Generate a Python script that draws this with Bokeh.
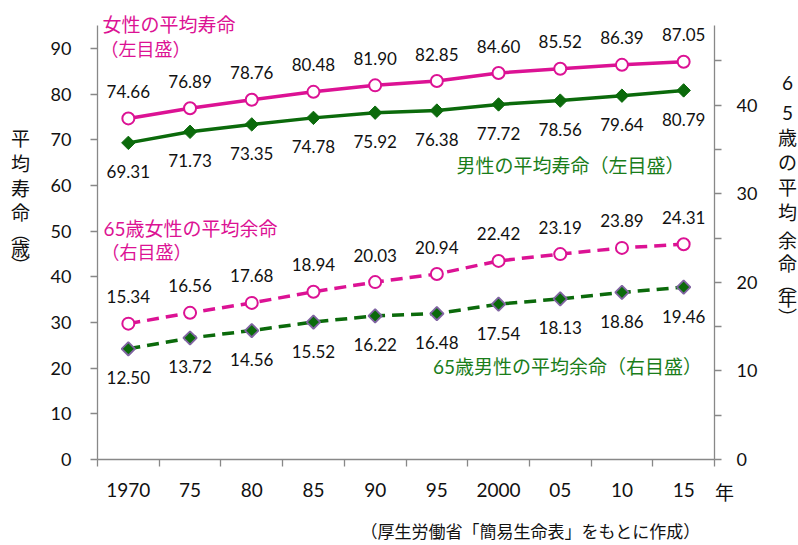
import numpy as np
from bokeh.plotting import figure
from bokeh.models import Range1d, LinearAxis, FixedTicker, ColumnDataSource, LabelSet, Label
from bokeh.core.properties import value
from bokeh.embed import file_html
from bokeh.resources import INLINE

# ---------------- data ----------------
years = ["1970", "75", "80", "85", "90", "95", "2000", "05", "10", "15"]
female = [74.66, 76.89, 78.76, 80.48, 81.90, 82.85, 84.60, 85.52, 86.39, 87.05]
male = [69.31, 71.73, 73.35, 74.78, 75.92, 76.38, 77.72, 78.56, 79.64, 80.79]
female65 = [15.34, 16.56, 17.68, 18.94, 20.03, 20.94, 22.42, 23.19, 23.89, 24.31]
male65 = [12.50, 13.72, 14.56, 15.52, 16.22, 16.48, 17.54, 18.13, 18.86, 19.46]

left_ticks = [0, 10, 20, 30, 40, 50, 60, 70, 80, 90]
right_ticks = [0, 10, 20, 30, 40]
right_minor = [5, 15, 25, 35, 45]

# ---------------- style / layout ----------------
PINK = "#DC1294"
GREEN = "#0B6A0B"
GREEN_TXT = "#1A7D1A"
PURPLE = "#8064A2"
AXIS = "#888888"
TXT = "#111111"
NUM_FONT = "Lato"
JP_FONT = "Lato, 'Noto Sans CJK JP'"
CJK = "Noto Sans CJK JP"

W, H = 798, 545
FL, FR, FT, FB = 97, 714, 25, 459      # plot-area edges in page pixels
LEFT_MAX, RIGHT_MAX = 95, 49
n = len(years)
sx = (FR - FL) / n
sy_l = (FB - FT) / LEFT_MAX
sy_r = (FB - FT) / RIGHT_MAX

def dx(px):
    return -0.5 + (px - FL) / sx

def dy(py):
    return (FB - py) / sy_l

def ry(py):
    return (FB - py) / sy_r

p = figure(width=W, height=H, output_backend="svg", toolbar_location=None,
           x_range=Range1d(dx(0), dx(W)), y_range=Range1d(dy(H), dy(0)),
           min_border=0, min_border_left=0, min_border_right=0,
           min_border_top=0, min_border_bottom=0,
           x_axis_location=None, y_axis_location=None)
p.title.visible = False
p.extra_y_ranges = {"right": Range1d(ry(H), ry(0))}
p.xgrid.visible = False
p.ygrid.visible = False
p.outline_line_color = None
p.background_fill_color = "white"
p.border_fill_color = "white"

def style_axis(ax):
    ax.axis_line_color = AXIS
    ax.axis_line_width = 1.3
    ax.major_tick_line_color = AXIS
    ax.minor_tick_line_color = AXIS
    ax.major_tick_line_width = 1.3
    ax.minor_tick_line_width = 1.3
    ax.major_tick_in = 0
    ax.minor_tick_in = 0
    ax.major_label_text_color = TXT
    ax.major_label_text_font = NUM_FONT

xaxis = LinearAxis(ticker=FixedTicker(ticks=list(range(n)),
                                      minor_ticks=[i - 0.5 for i in range(n + 1)]),
                   major_label_overrides={i: y for i, y in enumerate(years)},
                   fixed_location=0, bounds=(-0.5, n - 0.5))
style_axis(xaxis)
xaxis.major_tick_out = 0
xaxis.minor_tick_out = 7
xaxis.major_label_standoff = 16
xaxis.major_label_text_font_size = "19px"
p.add_layout(xaxis, "below")

yleft = LinearAxis(ticker=FixedTicker(ticks=left_ticks, minor_ticks=[]),
                   fixed_location=-0.5, bounds=(0, LEFT_MAX))
style_axis(yleft)
yleft.major_tick_out = 7
yleft.minor_tick_out = 0
yleft.major_label_standoff = 19
yleft.major_label_text_font_size = "18px"
p.add_layout(yleft, "left")

yright = LinearAxis(y_range_name="right",
                    ticker=FixedTicker(ticks=right_ticks, minor_ticks=right_minor),
                    fixed_location=n - 0.5, bounds=(0, RIGHT_MAX))
style_axis(yright)
yright.major_tick_out = 7
yright.minor_tick_out = 7
yright.major_label_standoff = 15
yright.major_label_text_font_size = "18px"
p.add_layout(yright, "right")

src = ColumnDataSource(dict(
    x=list(range(n)),
    female=female, male=male, f65=female65, m65=male65,
    female_lbl=[f"{v:.2f}" for v in female],
    male_lbl=[f"{v:.2f}" for v in male],
    f65_lbl=[f"{v:.2f}" for v in female65],
    m65_lbl=[f"{v:.2f}" for v in male65],
))

# female life expectancy (left)
p.line("x", "female", source=src, line_color=PINK, line_width=3.5)
p.scatter("x", "female", source=src, marker="circle", size=12,
          fill_color="white", line_color=PINK, line_width=2)
# male life expectancy (left)
p.line("x", "male", source=src, line_color=GREEN, line_width=3.5)
p.scatter("x", "male", source=src, marker="square", angle=np.pi / 4, size=9.5,
          fill_color=GREEN, line_color=GREEN, line_width=1)
# female 65 (right)
p.line("x", "f65", source=src, y_range_name="right", line_color=PINK,
       line_width=3.5, line_dash="12 7")
p.scatter("x", "f65", source=src, y_range_name="right", marker="circle", size=12,
          fill_color="white", line_color=PINK, line_width=2)
# male 65 (right)
p.line("x", "m65", source=src, y_range_name="right", line_color=GREEN,
       line_width=3.5, line_dash="12 7")
p.scatter("x", "m65", source=src, y_range_name="right", marker="square",
          angle=np.pi / 4, size=9.5, fill_color=GREEN, line_color=PURPLE, line_width=1.8)

def labels(col, txt, off, rng="default"):
    ls = LabelSet(x="x", y=col, text=txt, source=src, y_offset=off, y_range_name=rng,
                  text_align="center", text_baseline="middle",
                  text_font=value(NUM_FONT), text_font_size=value("17px"),
                  text_color=TXT)
    p.add_layout(ls)

labels("female", "female_lbl", 27)
labels("male", "male_lbl", -29)
labels("f65", "f65_lbl", 27, "right")
labels("m65", "m65_lbl", -29, "right")

def note(text, px, py, color, size="19px", align="left", font=JP_FONT):
    p.add_layout(Label(x=dx(px), y=dy(py), text=text, text_color=color,
                       text_font=font, text_font_size=size,
                       text_align=align, text_baseline="middle"))

note("女性の平均寿命", 102, 24, PINK)
note("（左目盛）", 100, 48, PINK, size="18px")
note("男性の平均寿命（左目盛）", 570, 165, GREEN_TXT, align="center")
note("65歳女性の平均余命", 103, 228, PINK)
note("（右目盛）", 101, 251, PINK, size="18px")
note("65歳男性の平均余命（右目盛）", 567, 366, GREEN_TXT, align="center")

note("年", 724, 491, TXT, size="19px", align="center", font=CJK)
note("（厚生労働省「簡易生命表」をもとに作成）", 530, 530, TXT, size="17px",
     align="center", font=CJK)

left_title = ["平", "均", "寿", "命", "︵", "歳", "︶"]
left_title_y = [137, 162, 187, 211, 231, 247, 264]
for ch, yy in zip(left_title, left_title_y):
    note(ch, 20, yy, TXT, size="19px", align="center", font=CJK)

right_title = ["6", "5", "歳", "の", "平", "均", "余", "命", "︵", "年", "︶"]
right_title_y = [82, 112, 137, 162, 187, 212, 240, 263, 283, 298, 317]
for ch, yy in zip(right_title, right_title_y):
    note(ch, 787, yy, TXT, size="19px", align="center", font=JP_FONT)

open("out.html", "w").write(file_html(p, INLINE))
